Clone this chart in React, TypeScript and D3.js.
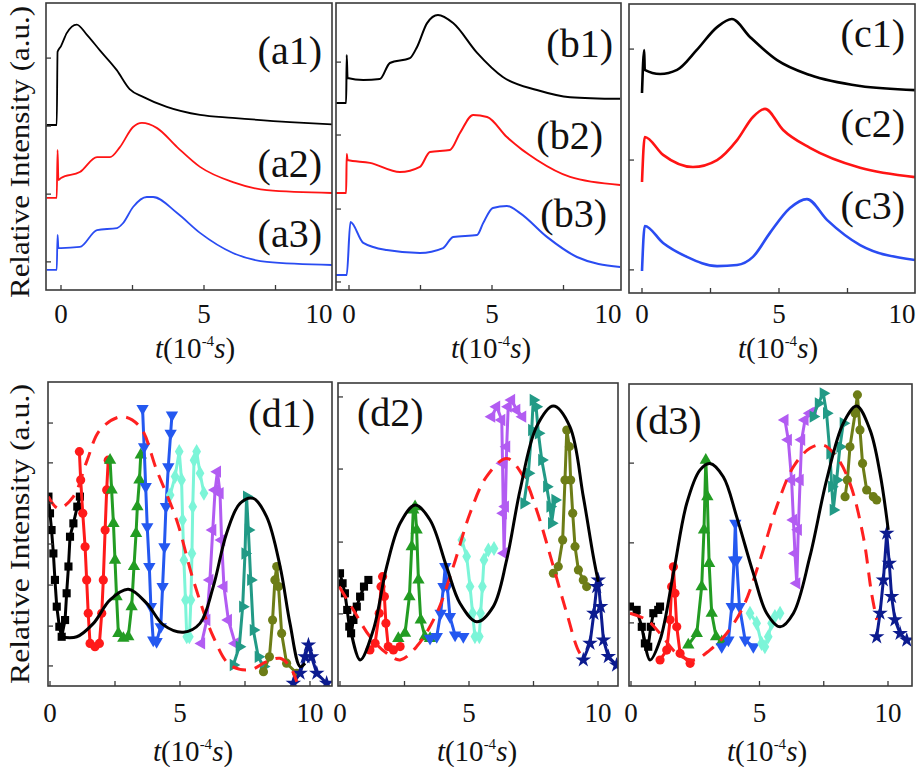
import * as d3 from "d3";

type Pt = [number, number];

// ---- top row: measured / simulated traces, t in 1e-4 s, intensity in a.u. (stacked)
const a1: Pt[] = [[-0.5,5.75],[-0.15,5.75],[-0.12,8.3],[0,8.5],[0.2,8.95],[0.55,9.25],[0.9,8.9],[1.36,8.35],[1.95,7.66],[2.4,7.0],[2.87,6.73],[3.7,6.38],[4.86,6.1],[6.0,6.0],[8.0,5.85],[9.5,5.77]];
const a2: Pt[] = [[-0.5,3.21],[-0.15,3.21],[-0.12,4.88],[-0.09,3.83],[0,3.9],[0.66,4.11],[1.26,4.63],[1.71,4.63],[2.06,4.98],[2.52,5.68],[2.83,5.82],[3.36,5.64],[4.06,4.98],[4.86,4.29],[6.01,3.76],[7.2,3.48],[9.5,3.38]];
const a3: Pt[] = [[-0.5,0.7],[-0.15,0.7],[-0.12,1.92],[-0.09,1.46],[0,1.46],[0.66,1.5],[1.26,2.09],[1.96,2.16],[2.17,2.33],[2.52,2.89],[3.0,3.24],[3.22,3.24],[4.06,2.68],[4.86,1.99],[6.01,1.29],[7.2,0.98],[9.5,0.87]];

const b1: Pt[] = [[-0.45,6.52],[-0.1,6.52],[-0.08,8.19],[-0.05,7.39],[0.5,7.32],[1.08,7.35],[1.43,7.91],[2.13,8.08],[2.38,8.47],[2.73,9.3],[3.11,9.58],[3.64,9.3],[4.48,8.26],[5.38,7.42],[6.57,6.97],[7.73,6.72],[9.48,6.66]];
const b2: Pt[] = [[-0.45,3.38],[-0.1,3.38],[-0.08,4.74],[-0.05,4.53],[0.73,4.43],[1.78,4.11],[2.48,4.29],[2.83,4.81],[3.53,4.88],[3.88,5.47],[4.34,6.1],[4.83,6.03],[5.52,5.33],[6.57,4.53],[7.73,3.94],[9.48,3.66]];
const b3: Pt[] = [[-0.45,0.52],[-0.08,0.52],[0.05,2.37],[0.5,1.64],[1.32,1.39],[2.48,1.29],[3.29,1.46],[3.64,1.85],[4.48,1.92],[4.69,2.33],[5.03,2.86],[5.52,2.93],[5.98,2.68],[6.92,1.85],[7.97,1.15],[9.48,0.8]];

const c1: Pt[] = [[0,6.92],[0.08,8.41],[0.1,7.72],[0.66,7.58],[1.28,7.72],[2.0,8.41],[2.74,9.2],[3.28,9.48],[3.94,8.86],[4.93,8.06],[6.13,7.54],[7.96,7.16],[9.96,7.02]];
const c2: Pt[] = [[0,3.84],[0.1,5.4],[0.77,4.78],[1.86,4.36],[2.74,4.6],[3.47,5.29],[4.05,6.09],[4.49,6.37],[5.15,5.64],[6.13,5.02],[7.96,4.33],[9.96,4.01]];
const c3: Pt[] = [[0,0.76],[0.1,2.32],[0.77,1.73],[1.64,1.25],[2.74,0.93],[3.47,0.97],[4.05,1.25],[4.67,2.08],[5.4,2.94],[6.02,3.25],[6.75,2.53],[7.96,1.66],[9.96,1.14]];

// ---- bottom row: fitted envelope (solid), model (dashed), measured peaks (markers)
const d1Fit: Pt[] = [[0.38,1.62],[1.03,1.62],[1.67,2.06],[2.31,2.83],[3.01,3.18],[3.72,2.72],[4.36,2.01],[5.13,1.77],[5.77,2.06],[6.28,3.27],[6.79,5.02],[7.31,6.01],[7.82,6.17],[8.33,5.57],[8.85,3.93],[9.23,2.06],[9.62,0.64],[9.81,0.75]];
const d1Model: Pt[] = [[-0.06,6.23],[0.32,5.84],[0.9,6.23],[1.41,7.38],[1.92,8.42],[2.76,8.86],[3.46,8.53],[4.1,7.11],[4.87,5.46],[5.51,3.49],[6.28,1.62],[6.92,0.69],[7.69,0.53],[8.33,0.8],[8.85,0.91],[9.23,0.64],[9.49,0.14]];
const d1Peaks: Pt[][] = [
  [[-0.06,6.23],[0,5.68],[0.06,5.13],[0.13,4.36],[0.19,3.49],[0.26,2.61],[0.36,1.95],[0.45,1.62],[0.58,2.17],[0.64,3.05],[0.71,3.93],[0.77,4.91],[0.9,5.35],[1.05,5.9],[1.15,6.23]],
  [[1.13,7.71],[1.18,6.78],[1.26,5.68],[1.35,4.58],[1.41,3.49],[1.47,2.39],[1.54,1.4],[1.73,1.29],[1.9,1.4],[1.99,2.39],[2.05,3.49],[2.12,5.13],[2.18,6.45],[2.24,7.43]],
  [[2.31,7.43],[2.37,6.45],[2.44,5.35],[2.5,4.14],[2.56,2.94],[2.63,1.73],[2.82,1.57],[3.01,1.62],[3.14,2.61],[3.23,3.93],[3.31,5.02],[3.36,5.9],[3.44,6.78],[3.49,7.6]],
  [[3.56,9.13],[3.62,7.87],[3.68,6.56],[3.74,5.24],[3.82,3.93],[3.88,2.61],[3.97,1.51],[4.1,1.46],[4.26,1.95],[4.33,3.27],[4.4,4.58],[4.46,5.9],[4.55,7.21],[4.64,8.31],[4.69,8.91]],
  [[4.62,6.28],[4.81,6.89],[4.97,7.71],[5.06,6.78],[5.1,5.46],[5.15,4.14],[5.21,2.83],[5.26,1.62],[5.36,1.62],[5.42,2.83],[5.46,4.36],[5.49,5.9],[5.54,7.43],[5.64,7.71],[5.77,7.0],[5.92,6.34]],
  [[5.83,1.4],[6.03,2.17],[6.15,3.49],[6.26,5.13],[6.35,6.45],[6.44,7.05],[6.54,6.34],[6.6,4.8],[6.69,3.27],[6.86,2.17],[7.12,1.4]],
  [[7.05,0.69],[7.28,1.29],[7.41,2.61],[7.5,4.36],[7.56,6.23],[7.63,5.13],[7.72,3.49],[7.82,1.84],[8.01,0.96],[8.21,0.64]],
  [[8.21,0.47],[8.44,0.96],[8.56,2.17],[8.65,3.49],[8.72,3.93],[8.79,3.27],[8.91,1.73],[9.1,0.75],[9.49,0.42]],
  [[9.36,0.09],[9.62,0.42],[9.81,0.96],[9.94,1.35],[10.06,0.96],[10.26,0.42],[10.64,0.09]],
];

const d2Fit: Pt[] = [[0.39,1.96],[0.78,0.86],[1.29,1.85],[1.81,3.94],[2.33,5.37],[2.91,5.97],[3.49,5.48],[4.13,3.94],[4.65,2.73],[5.3,2.12],[5.94,2.62],[6.46,4.16],[6.98,6.47],[7.62,8.56],[8.27,9.24],[8.91,8.56],[9.43,6.25],[9.82,4.27],[10.01,3.44]];
const d2Model: Pt[] = [[-0.03,3.28],[0.52,2.51],[1.16,1.63],[1.81,1.08],[2.33,0.86],[2.97,1.3],[3.75,2.4],[4.39,3.94],[5.04,5.7],[5.68,6.91],[6.46,7.51],[7.11,6.91],[7.62,5.81],[8.27,3.94],[8.79,2.4],[9.3,1.08],[9.56,0.91]];
const d2Peaks: Pt[][] = [
  [[0,3.72],[0.1,3.39],[0.19,3.06],[0.28,2.51],[0.36,1.96],[0.43,1.74],[0.52,2.18],[0.65,2.62],[0.78,2.95],[0.93,3.28],[1.1,3.5]],
  [[1.16,1.19],[1.36,1.41],[1.52,2.4],[1.59,3.28],[1.65,3.61],[1.72,2.95],[1.78,2.07],[1.87,1.3],[2.07,1.19],[2.33,1.3]],
  [[2.26,1.57],[2.52,1.74],[2.69,2.95],[2.78,4.6],[2.84,5.81],[2.91,5.92],[2.97,5.15],[3.04,3.5],[3.13,2.18],[3.29,1.63],[3.49,1.57]],
  [[3.49,1.57],[3.75,1.63],[3.9,2.4],[4.01,3.28],[4.08,3.94],[4.16,3.28],[4.26,2.29],[4.46,1.68],[4.78,1.63]],
  [[4.72,4.82],[4.91,4.27],[5.04,3.28],[5.14,2.4],[5.23,1.63],[5.4,1.63],[5.45,2.4],[5.52,3.28],[5.58,4.16],[5.75,4.49],[5.97,4.54]],
  [[5.88,8.89],[6.07,9.22],[6.27,8.78],[6.3,7.35],[6.33,5.7],[6.36,4.38],[6.41,5.92],[6.46,7.9],[6.52,9.22],[6.65,9.44],[6.85,9.11],[7.08,8.89]],
  [[7.13,6.03],[7.3,7.02],[7.43,8.45],[7.49,9.44],[7.6,9.22],[7.69,8.34],[7.82,7.46],[8.01,6.58],[8.14,5.92],[8.2,5.37],[8.33,6.14]],
  [[8.27,3.72],[8.46,3.94],[8.63,4.82],[8.72,6.8],[8.79,8.45],[8.89,7.9],[8.94,6.8],[9.02,5.7],[9.11,4.6],[9.24,3.83],[9.43,3.5],[9.56,3.28]],
  [[9.43,0.86],[9.69,1.41],[9.84,2.4],[9.95,3.28],[10.01,3.5],[10.1,2.62],[10.21,1.52],[10.4,0.97],[10.72,0.69]],
];

const d3Fit: Pt[] = [[0.48,1.74],[0.74,0.86],[1.13,1.52],[1.65,3.73],[2.17,6.05],[2.68,7.15],[3.07,7.37],[3.59,6.93],[4.11,5.61],[4.76,3.73],[5.28,2.41],[5.8,1.96],[6.32,2.41],[6.96,4.28],[7.61,6.82],[8.26,8.7],[8.78,9.27],[9.3,8.48],[9.69,7.04],[10.01,5.17]];
const d3Model: Pt[] = [[-0.04,2.41],[0.61,2.19],[1.13,1.74],[1.78,1.08],[2.43,0.86],[3.07,1.19],[3.72,1.74],[4.37,2.63],[5.02,4.17],[5.67,5.94],[6.32,7.26],[6.96,7.87],[7.48,7.98],[8.0,7.59],[8.52,6.71],[9.04,4.94],[9.36,3.07],[9.56,2.19]];
const d3Peaks: Pt[][] = [
  [[-0.04,2.63],[0.22,2.52],[0.42,1.96],[0.54,1.41],[0.67,1.3],[0.77,1.96],[0.87,2.41],[1.06,2.52],[1.13,2.63]],
  [[1.13,0.86],[1.39,1.19],[1.52,2.19],[1.58,3.29],[1.65,3.95],[1.71,3.07],[1.78,1.96],[1.91,1.08],[2.3,0.75]],
  [[2.23,1.36],[2.56,1.74],[2.75,3.29],[2.84,5.17],[2.91,7.48],[2.97,6.27],[3.04,4.06],[3.14,2.41],[3.31,1.63],[3.53,1.47]],
  [[3.53,1.3],[3.79,1.52],[3.92,2.63],[4.01,4.17],[4.06,5.39],[4.11,4.17],[4.22,2.63],[4.44,1.52],[4.76,1.3]],
  [[4.63,2.41],[4.89,2.08],[5.08,1.41],[5.21,1.3],[5.34,1.63],[5.47,2.08],[5.6,2.3],[5.8,2.41]],
  [[5.99,8.81],[6.12,8.15],[6.25,6.82],[6.32,5.5],[6.38,4.39],[6.45,3.4],[6.51,5.17],[6.58,6.82],[6.64,8.15],[6.77,8.81],[6.96,9.03],[7.09,9.08]],
  [[7.09,8.92],[7.29,9.36],[7.48,9.69],[7.61,9.03],[7.74,7.7],[7.81,6.6],[7.87,5.83],[8.0,6.82],[8.13,7.92],[8.26,8.7]],
  [[8.33,6.27],[8.42,6.82],[8.52,7.92],[8.72,9.03],[8.81,9.64],[8.91,8.48],[9.01,7.37],[9.17,6.49],[9.43,6.27],[9.56,6.16]],
  [[9.56,1.63],[9.69,2.41],[9.82,3.51],[9.95,5.06],[10.05,4.06],[10.14,2.96],[10.27,2.19],[10.47,1.74],[10.73,1.52]],
];

const xTicks = [0, 2.5, 5, 7.5, 10];
const xTickLabels = [0, 5, 10];

const traceColors = ["#000000", "#ff1414", "#2a4cf2"];
const peakColors = ["#000000", "#ff1a1a", "#239c23", "#2458f0", "#7cf5d8", "#b25cf2", "#229a86", "#6d7d17", "#0c1b8f"];
const peakShapes = ["square", "circle", "up", "down", "diamond", "left", "right", "circle", "star"];

const FONT = "Liberation Serif";

interface Layout {
  left: number; right: number; top: number; bottom: number;
  x0: number; x10: number;
  yTicks: number[];
  titleX: number;
}

const symbolFor = (shape: string) => {
  if (shape === "square") return d3.symbolSquare;
  if (shape === "circle") return d3.symbolCircle;
  if (shape === "diamond") return d3.symbolDiamond;
  if (shape === "star") return d3.symbolStar;
  return d3.symbolTriangle;
};
const rotationFor: Record<string, number> = { up: 0, down: 180, left: -90, right: 90 };

function Frame({ L, id, row, children, labels }: {
  L: Layout; id: string; row: "top" | "bottom"; children: any;
  labels: { text: string; x: number; y: number; anchor: string }[];
}) {
  const x = d3.scaleLinear().domain([0, 10]).range([L.x0, L.x10]);
  const y = d3.scaleLinear().domain([0, 10]).range([L.bottom, L.top]);
  const labelY = row === "top" ? 323 : 722;
  const titleY = row === "top" ? 358 : 761;
  return (
    <g>
      <defs>
        <clipPath id={`clip-${id}`}>
          <rect x={L.left} y={L.top} width={L.right - L.left} height={L.bottom - L.top} />
        </clipPath>
      </defs>
      <g clipPath={`url(#clip-${id})`}>{children(x, y)}</g>
      <rect x={L.left} y={L.top} width={L.right - L.left} height={L.bottom - L.top}
        fill="none" stroke="#3a3a3a" strokeWidth={1.6} />
      {xTicks.filter((t) => x(t) < L.right - 2).map((t) => (
        <line key={t} x1={x(t)} x2={x(t)} y1={L.bottom} y2={L.bottom - 5} stroke="#3a3a3a" strokeWidth={1.3} />
      ))}
      {L.yTicks.map((v) => (
        <line key={v} x1={L.left} x2={L.left + 5} y1={y(v)} y2={y(v)} stroke="#3a3a3a" strokeWidth={1.3} />
      ))}
      {xTickLabels.map((t) => (
        <text key={t} x={Math.min(x(t), L.right - 13)} y={labelY} textAnchor="middle"
          fontFamily={FONT} fontSize={27} fill="#111">{t}</text>
      ))}
      <text x={L.titleX} y={titleY} textAnchor="middle" fontFamily={FONT} fontSize={29} fill="#111">
        <tspan fontStyle="italic">t</tspan>(10<tspan fontSize={15} dy={-12}>-4</tspan>
        <tspan fontStyle="italic" dy={12}>s</tspan>)
      </text>
      {labels.map((l) => (
        <text key={l.text} x={l.x} y={l.y} textAnchor={l.anchor} dominantBaseline="central"
          fontFamily={FONT} fontSize={40} fill="#111">{l.text}</text>
      ))}
    </g>
  );
}

function Traces({ series, width, x, y }: { series: Pt[][]; width: number; x: any; y: any }) {
  const line = d3.line<Pt>().x((d) => x(d[0])).y((d) => y(d[1])).curve(d3.curveMonotoneX);
  return (
    <g>
      {series.map((s, i) => (
        <path key={i} d={line(s) ?? ""} fill="none" stroke={traceColors[i]} strokeWidth={width}
          strokeLinejoin="round" />
      ))}
    </g>
  );
}

function Resonance({ fit, model, peaks, x, y }: { fit: Pt[]; model: Pt[]; peaks: Pt[][]; x: any; y: any }) {
  const smooth = d3.line<Pt>().x((d) => x(d[0])).y((d) => y(d[1])).curve(d3.curveCatmullRom.alpha(0.5));
  const thin = d3.line<Pt>().x((d) => x(d[0])).y((d) => y(d[1]));
  return (
    <g>
      {peaks.map((s, i) => {
        const shape = peakShapes[i];
        const sym = d3.symbol().type(symbolFor(shape)).size(shape === "star" ? 75 : 66)() ?? "";
        const rot = rotationFor[shape] ?? 0;
        return (
          <g key={i}>
            <path d={thin(s) ?? ""} fill="none" stroke={peakColors[i]} strokeWidth={3} strokeLinejoin="round" />
            {s.map((p, j) => (
              <path key={j} d={sym} fill={peakColors[i]}
                transform={`translate(${x(p[0])},${y(p[1])}) rotate(${rot})`} />
            ))}
          </g>
        );
      })}
      <path d={smooth(model) ?? ""} fill="none" stroke="#ff2020" strokeWidth={3} strokeDasharray="14 9" />
      <path d={smooth(fit) ?? ""} fill="none" stroke="#000" strokeWidth={3} />
    </g>
  );
}

const layoutA: Layout = { left: 46, right: 332, top: 3, bottom: 290, x0: 61, x10: 347, yTicks: [0.98, 3.34, 5.71, 8.08], titleX: 195 };
const layoutB: Layout = { left: 336, right: 621, top: 3, bottom: 290, x0: 349, x10: 635, yTicks: [0.28, 2.82, 5.4, 7.94], titleX: 491 };
const layoutC: Layout = { left: 629, right: 915, top: 4, bottom: 293, x0: 642, x10: 916, yTicks: [0.8, 4.6, 8.44], titleX: 778 };
const layoutD1: Layout = { left: 48, right: 332, top: 382, bottom: 686, x0: 50, x10: 310, yTicks: [0.66, 1.97, 3.32, 4.67, 6.02, 7.34, 8.65], titleX: 193 };
const layoutD2: Layout = { left: 338, right: 618, top: 383, bottom: 686, x0: 340, x10: 598, yTicks: [2.38, 4.75, 7.16, 9.54], titleX: 477 };
const layoutD3: Layout = { left: 629, right: 912, top: 384, bottom: 686, x0: 631, x10: 888, yTicks: [2.09, 4.74, 7.38], titleX: 767 };

export default function App() {
  return (
    <svg width={922} height={767} viewBox="0 0 922 767"
      style={{ position: "absolute", left: 0, top: 0, background: "#fff" }}>
      <rect width={922} height={767} fill="#fff" />
      <text transform="translate(29,152) rotate(-90)" textAnchor="middle" fontFamily={FONT}
        fontSize={28} textLength={292} lengthAdjust="spacingAndGlyphs" fill="#111">Relative Intensity (a.u.)</text>
      <text transform="translate(29,534) rotate(-90)" textAnchor="middle" fontFamily={FONT}
        fontSize={28} textLength={300} lengthAdjust="spacingAndGlyphs" fill="#111">Relative Intensity (a.u.)</text>

      <Frame L={layoutA} id="a" row="top" labels={[
        { text: "(a1)", x: 322, y: 50, anchor: "end" },
        { text: "(a2)", x: 322, y: 163, anchor: "end" },
        { text: "(a3)", x: 322, y: 233, anchor: "end" },
      ]}>{(x: any, y: any) => <Traces series={[a1, a2, a3]} width={1.8} x={x} y={y} />}</Frame>

      <Frame L={layoutB} id="b" row="top" labels={[
        { text: "(b1)", x: 613, y: 43, anchor: "end" },
        { text: "(b2)", x: 603, y: 135, anchor: "end" },
        { text: "(b3)", x: 607, y: 213, anchor: "end" },
      ]}>{(x: any, y: any) => <Traces series={[b1, b2, b3]} width={2} x={x} y={y} />}</Frame>

      <Frame L={layoutC} id="c" row="top" labels={[
        { text: "(c1)", x: 905, y: 33, anchor: "end" },
        { text: "(c2)", x: 905, y: 123, anchor: "end" },
        { text: "(c3)", x: 905, y: 205, anchor: "end" },
      ]}>{(x: any, y: any) => <Traces series={[c1, c2, c3]} width={2.6} x={x} y={y} />}</Frame>

      <Frame L={layoutD1} id="d1" row="bottom" labels={[{ text: "(d1)", x: 315, y: 413, anchor: "end" }]}>
        {(x: any, y: any) => <Resonance fit={d1Fit} model={d1Model} peaks={d1Peaks} x={x} y={y} />}
      </Frame>
      <Frame L={layoutD2} id="d2" row="bottom" labels={[{ text: "(d2)", x: 357, y: 412, anchor: "start" }]}>
        {(x: any, y: any) => <Resonance fit={d2Fit} model={d2Model} peaks={d2Peaks} x={x} y={y} />}
      </Frame>
      <Frame L={layoutD3} id="d3" row="bottom" labels={[{ text: "(d3)", x: 635, y: 420, anchor: "start" }]}>
        {(x: any, y: any) => <Resonance fit={d3Fit} model={d3Model} peaks={d3Peaks} x={x} y={y} />}
      </Frame>
    </svg>
  );
}
